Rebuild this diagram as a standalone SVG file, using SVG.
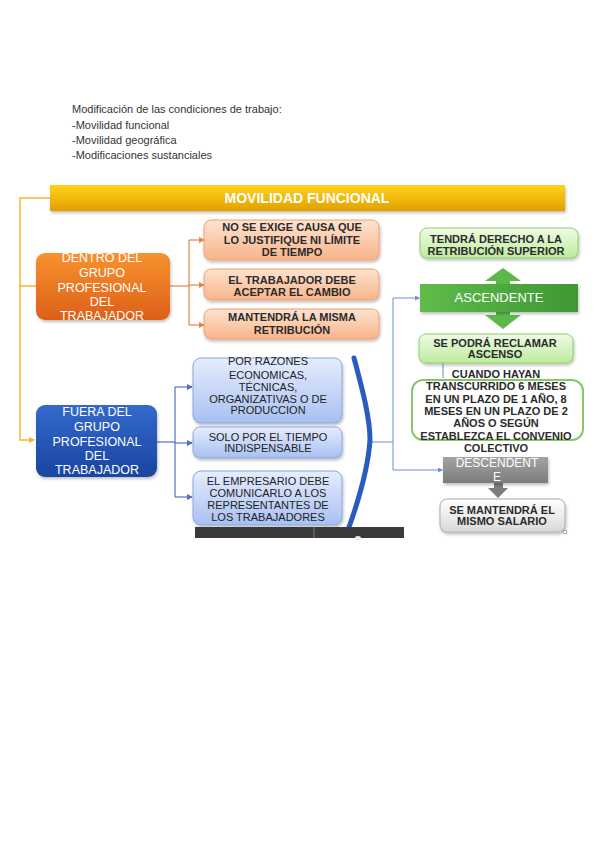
<svg xmlns="http://www.w3.org/2000/svg" width="599" height="848" viewBox="0 0 599 848">
<style>
  text { font-family: "Liberation Sans", Arial, sans-serif; }
  .intro { font-size: 11px; fill: #333; }
  .hdr { font-size: 14px; font-weight: bold; fill: #fff; }
  .wt { font-size: 12.5px; fill: #fff; text-anchor: middle; }
  .dk { font-size: 11px; font-weight: bold; fill: #2b2b2b; text-anchor: middle; }
  .bl { font-size: 11px; fill: #222; text-anchor: middle; }
  .gw { font-size: 13px; fill: #fff; text-anchor: middle; }
  .cy { fill: none; stroke: #f2b632; stroke-width: 1.5; }
  .co { fill: none; stroke: #e8834c; stroke-width: 1.2; }
  .cb { fill: none; stroke: #4f72bf; stroke-width: 1.2; }
  .ct { fill: none; stroke: #6b8fd6; stroke-width: 1; }
  .peach { fill: url(#gPeach); stroke: #efa070; stroke-width: 1; }
  .lblue { fill: url(#gLBlue); stroke: #8aa6e0; stroke-width: 1; }
  .lgreen { fill: url(#gLGreen); stroke: #8ccf6c; stroke-width: 1; }
</style>
<defs>
  <linearGradient id="gHdr" x1="0" y1="0" x2="0" y2="1">
    <stop offset="0" stop-color="#ffd21a"/><stop offset="1" stop-color="#e3a000"/>
  </linearGradient>
  <linearGradient id="gOrange" x1="0" y1="0" x2="0" y2="1">
    <stop offset="0" stop-color="#f7922f"/><stop offset="1" stop-color="#dd5f18"/>
  </linearGradient>
  <linearGradient id="gBlue" x1="0" y1="0" x2="0" y2="1">
    <stop offset="0" stop-color="#3469cc"/><stop offset="1" stop-color="#1a45a0"/>
  </linearGradient>
  <linearGradient id="gPeach" x1="0" y1="0" x2="0" y2="1">
    <stop offset="0" stop-color="#fde3d0"/><stop offset="1" stop-color="#f8b48a"/>
  </linearGradient>
  <linearGradient id="gLBlue" x1="0" y1="0" x2="0" y2="1">
    <stop offset="0" stop-color="#e6edfd"/><stop offset="1" stop-color="#a8c0f1"/>
  </linearGradient>
  <linearGradient id="gLGreen" x1="0" y1="0" x2="0" y2="1">
    <stop offset="0" stop-color="#f0fbe6"/><stop offset="1" stop-color="#bdeb9c"/>
  </linearGradient>
  <linearGradient id="gGreen" x1="0" y1="0" x2="1" y2="0">
    <stop offset="0" stop-color="#5fbb4b"/><stop offset="1" stop-color="#3e9833"/>
  </linearGradient>
  <linearGradient id="gGray" x1="0" y1="0" x2="0" y2="1">
    <stop offset="0" stop-color="#a3a3a3"/><stop offset="1" stop-color="#7c7c7c"/>
  </linearGradient>
  <linearGradient id="gLGray" x1="0" y1="0" x2="0" y2="1">
    <stop offset="0" stop-color="#ffffff"/><stop offset="1" stop-color="#d9d9d9"/>
  </linearGradient>
  <filter id="sh" x="-10%" y="-10%" width="125%" height="135%">
    <feDropShadow dx="1" dy="2" stdDeviation="1.5" flood-color="#000" flood-opacity="0.25"/>
  </filter>
  <marker id="aY" markerWidth="6" markerHeight="6" refX="5" refY="3" orient="auto" markerUnits="userSpaceOnUse">
    <path d="M0,0 L6,3 L0,6 z" fill="#f2b632"/>
  </marker>
  <marker id="aO" markerWidth="6" markerHeight="6" refX="5" refY="3" orient="auto" markerUnits="userSpaceOnUse">
    <path d="M0,0 L6,3 L0,6 z" fill="#e8834c"/>
  </marker>
  <marker id="aB" markerWidth="6" markerHeight="6" refX="5" refY="3" orient="auto" markerUnits="userSpaceOnUse">
    <path d="M0,0 L6,3 L0,6 z" fill="#4f72bf"/>
  </marker>
  <marker id="aT" markerWidth="5" markerHeight="5" refX="4" refY="2.5" orient="auto" markerUnits="userSpaceOnUse">
    <path d="M0,0 L5,2.5 L0,5 z" fill="#6b8fd6"/>
  </marker>
</defs>

<rect width="599" height="848" fill="#fff"/>

<g id="intro">
  <text class="intro" x="72" y="113">Modificación de las condiciones de trabajo:</text>
  <text class="intro" x="72" y="129">-Movilidad funcional</text>
  <text class="intro" x="72" y="144">-Movilidad geográfica</text>
  <text class="intro" x="72" y="159">-Modificaciones sustanciales</text>
</g>

<g id="connectors">
  <path class="cy" d="M50,198 H20 V440 H34" marker-end="url(#aY)"/>
  <path class="cy" d="M20,286 H36"/>
  <path class="co" d="M170,286 H189"/>
  <path class="co" d="M189,240 V325"/>
  <path class="co" d="M189,240 H204" marker-end="url(#aO)"/>
  <path class="co" d="M189,285 H204" marker-end="url(#aO)"/>
  <path class="co" d="M189,325 H204" marker-end="url(#aO)"/>
  <path class="cb" d="M157,442 H175"/>
  <path class="cb" d="M175,387 V497"/>
  <path class="cb" d="M175,387 H192" marker-end="url(#aB)"/>
  <path class="cb" d="M175,443 H192" marker-end="url(#aB)"/>
  <path class="cb" d="M175,497 H192" marker-end="url(#aB)"/>
  <path class="ct" d="M368,442 H393 M393,298 V470"/>
  <path class="ct" d="M393,298 H419" marker-end="url(#aT)"/>
  <path class="ct" d="M393,470 H442" marker-end="url(#aT)"/>
  <path class="ct" d="M443,363 V378"/>
</g>

<g id="header">
  <rect x="50" y="185" width="515" height="26" fill="url(#gHdr)" filter="url(#sh)"/>
  <text class="hdr" x="307" y="203" text-anchor="middle">MOVILIDAD FUNCIONAL</text>
</g>

<g id="dentro">
  <rect x="36" y="253" width="134" height="67" rx="9" fill="url(#gOrange)" filter="url(#sh)"/>
  <text class="wt" x="102" y="262">DENTRO DEL</text>
  <text class="wt" x="102" y="277">GRUPO</text>
  <text class="wt" x="102" y="292">PROFESIONAL</text>
  <text class="wt" x="102" y="306">DEL</text>
  <text class="wt" x="102" y="320">TRABAJADOR</text>
</g>

<g id="fuera">
  <rect x="36" y="405" width="121" height="72" rx="9" fill="url(#gBlue)" filter="url(#sh)"/>
  <text class="wt" x="97" y="416">FUERA DEL</text>
  <text class="wt" x="97" y="431">GRUPO</text>
  <text class="wt" x="97" y="446">PROFESIONAL</text>
  <text class="wt" x="97" y="460">DEL</text>
  <text class="wt" x="97" y="474">TRABAJADOR</text>
</g>

<g id="p1">
  <rect class="peach" x="204" y="220" width="175" height="40" rx="7" filter="url(#sh)"/>
  <text class="dk" x="292" y="231">NO SE EXIGE CAUSA QUE</text>
  <text class="dk" x="292" y="244">LO JUSTIFIQUE NI LÍMITE</text>
  <text class="dk" x="292" y="256">DE TIEMPO</text>
</g>
<g id="p2">
  <rect class="peach" x="204" y="269" width="175" height="31" rx="7" filter="url(#sh)"/>
  <text class="dk" x="292" y="284">EL TRABAJADOR DEBE</text>
  <text class="dk" x="292" y="296">ACEPTAR EL CAMBIO</text>
</g>
<g id="p3">
  <rect class="peach" x="204" y="309" width="175" height="30" rx="7" filter="url(#sh)"/>
  <text class="dk" x="292" y="321">MANTENDRÁ LA MISMA</text>
  <text class="dk" x="292" y="334">RETRIBUCIÓN</text>
</g>

<g id="b1">
  <rect class="lblue" x="193" y="358" width="149" height="65" rx="8" filter="url(#sh)"/>
  <text class="bl" x="268" y="365">POR RAZONES</text>
  <text class="bl" x="268" y="379">ECONOMICAS,</text>
  <text class="bl" x="268" y="391">TÉCNICAS,</text>
  <text class="bl" x="268" y="403">ORGANIZATIVAS O DE</text>
  <text class="bl" x="268" y="414">PRODUCCION</text>
</g>
<g id="b2">
  <rect class="lblue" x="193" y="427" width="149" height="31" rx="7" filter="url(#sh)"/>
  <text class="bl" x="268" y="441">SOLO POR EL TIEMPO</text>
  <text class="bl" x="268" y="452">INDISPENSABLE</text>
</g>
<g id="b3">
  <rect class="lblue" x="193" y="471" width="149" height="54" rx="8" filter="url(#sh)"/>
  <text class="bl" x="268" y="485">EL EMPRESARIO DEBE</text>
  <text class="bl" x="268" y="497">COMUNICARLO A LOS</text>
  <text class="bl" x="268" y="509">REPRESENTANTES DE</text>
  <text class="bl" x="268" y="521">LOS TRABAJADORES</text>
</g>

<g id="bracket">
  <path d="M354,358 C364,395 370,420 370,440 C368,470 357,505 348,530" fill="none" stroke="#2a5cc0" stroke-width="5" stroke-linecap="round"/>
</g>

<g id="g1">
  <rect class="lgreen" x="420" y="228" width="158" height="30" rx="7" filter="url(#sh)"/>
  <text class="dk" x="496" y="243">TENDRÁ DERECHO A LA</text>
  <text class="dk" x="496" y="255">RETRIBUCIÓN SUPERIOR</text>
</g>

<g id="ascendente">
  <polygon points="503,268 521,281 510,281 510,315 521,315 503,329 485,315 496,315 496,281 485,281" fill="#5cb848"/>
  <rect x="420" y="284" width="158" height="28" fill="url(#gGreen)" filter="url(#sh)"/>
  <text class="gw" x="499" y="302">ASCENDENTE</text>
</g>

<g id="g2">
  <rect class="lgreen" x="419" y="334" width="154" height="29" rx="7" filter="url(#sh)"/>
  <text class="dk" x="495" y="347">SE PODRÁ RECLAMAR</text>
  <text class="dk" x="495" y="358">ASCENSO</text>
</g>

<g id="cuando">
  <rect x="412" y="380" width="171" height="60" rx="11" fill="#fff" stroke="#86c866" stroke-width="2"/>
  <text class="dk" x="496" y="378">CUANDO HAYAN</text>
  <text class="dk" x="496" y="390">TRANSCURRIDO 6 MESES</text>
  <text class="dk" x="496" y="403">EN UN PLAZO DE 1 AÑO, 8</text>
  <text class="dk" x="496" y="415">MESES EN UN PLAZO DE 2</text>
  <text class="dk" x="496" y="427">AÑOS O SEGÚN</text>
  <text class="dk" x="496" y="440">ESTABLEZCA EL CONVENIO</text>
  <text class="dk" x="496" y="452">COLECTIVO</text>
</g>

<g id="descendente">
  <polygon points="494,483 503,483 503,488 508,488 498,498 488,488 494,488" fill="#7d7d7d"/>
  <rect x="443" y="457" width="105" height="26" fill="url(#gGray)" filter="url(#sh)"/>
  <text class="gw" x="497" y="467" style="font-size:12px">DESCENDENT</text>
  <text class="gw" x="497" y="481" style="font-size:12px">E</text>
</g>

<g id="salario">
  <rect x="440" y="499" width="125" height="33" rx="7" fill="url(#gLGray)" stroke="#aaa" stroke-width="1" filter="url(#sh)"/>
  <text class="dk" x="502" y="514">SE MANTENDRÁ EL</text>
  <text class="dk" x="502" y="525">MISMO SALARIO</text>
  <circle cx="565" cy="532" r="1.8" fill="#fff" stroke="#888" stroke-width="0.8"/>
</g>

<g id="bar">
  <rect x="195" y="527" width="209" height="11" fill="#3b3b3b"/>
  <line x1="314" y1="527" x2="314" y2="538" stroke="#7a7a7a" stroke-width="1"/>
  <ellipse cx="358" cy="538" rx="3" ry="2" fill="#eee"/>
</g>
</svg>
